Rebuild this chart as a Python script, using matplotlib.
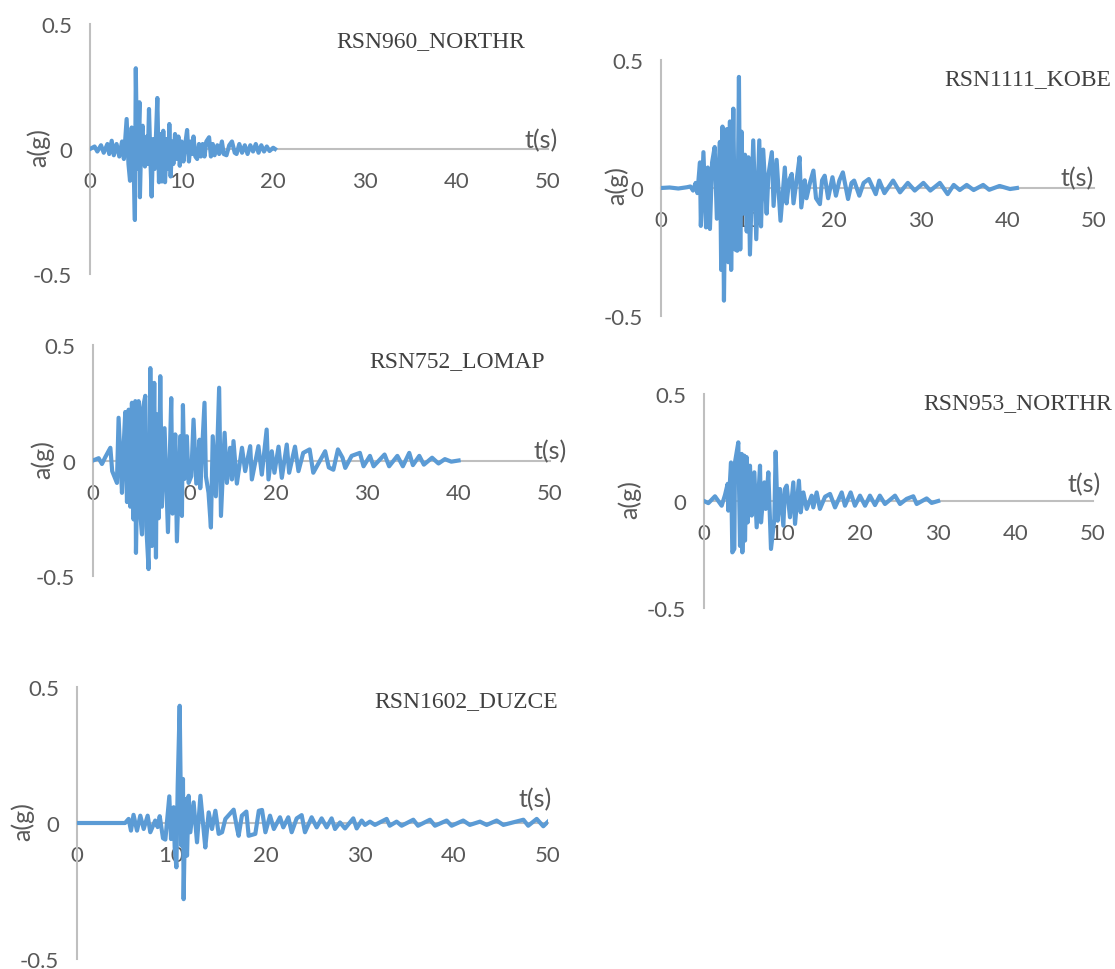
#!/usr/bin/env python3
# plot.py - five ground-motion records (acceleration vs time), Excel-like layout
import matplotlib
matplotlib.use('Agg')
import matplotlib.pyplot as plt

W, H = 1115, 970
LINE = '#5B9BD5'
AXIS = '#BFBFBF'
TXT = '#595959'

# RSN960_NORTHR  (peaks)
t960 = [0.0, 0.5, 0.8, 1.2, 1.5, 1.9, 2.1, 2.37, 2.6, 2.9, 3.2, 3.5, 3.7, 4.0, 4.2, 4.37, 4.55, 4.75, 4.9, 5.0,
        5.15, 5.3, 5.4, 5.45, 5.6, 5.75, 5.85, 6.0, 6.2, 6.3, 6.44, 6.6, 6.73, 6.9, 7.05, 7.2, 7.35, 7.53, 7.7, 7.85,
        8.0, 8.19, 8.4, 8.55, 8.66, 8.8, 9.0, 9.1, 9.28, 9.5, 9.65, 9.8, 10.0, 10.2, 10.4, 10.6, 10.8, 11.0, 11.15, 11.3,
        11.5, 11.7, 11.9, 12.1, 12.3, 12.5, 12.7, 13.0, 13.2, 13.4, 13.6, 13.9, 14.1, 14.4, 14.6, 14.9, 15.2, 15.5, 15.8, 16.0,
        16.3, 16.6, 16.9, 17.2, 17.5, 17.8, 18.1, 18.4, 18.7, 19.0, 19.3, 19.6, 20.0, 20.2]
a960 = [0.0, 0.01, -0.01, 0.015, -0.015, 0.02, -0.02, 0.033, -0.025, 0.02, -0.03, 0.03, -0.04, 0.12, -0.06, -0.127, 0.086, -0.05, -0.284, 0.323,
        -0.08, 0.06, 0.187, -0.193, 0.05, 0.093, -0.03, -0.07, 0.05, -0.06, 0.16, -0.05, -0.19, 0.04, -0.08, 0.05, 0.204, -0.133, 0.06, -0.13,
        0.073, -0.133, 0.04, -0.08, 0.10, -0.11, 0.03, -0.06, 0.06, -0.04, 0.05, -0.067, 0.03, -0.05, 0.02, 0.076, -0.05, 0.03, -0.02, 0.05,
        -0.03, -0.04, 0.02, -0.03, 0.02, -0.03, 0.03, 0.047, -0.03, 0.02, -0.025, 0.015, -0.02, 0.03, -0.02, -0.025, 0.015, 0.03, -0.015, -0.02,
        0.02, -0.015, 0.015, -0.02, 0.015, -0.01, 0.02, -0.015, 0.015, -0.01, 0.01, -0.008, 0.005, 0.0]

# RSN1111_KOBE
t1111 = [0.0, 1.0, 2.0, 3.0, 3.4, 3.7, 4.0, 4.2, 4.5, 4.6, 4.9, 5.2, 5.4, 5.65, 5.9, 6.2, 6.45, 6.8, 6.95, 7.1,
         7.27, 7.45, 7.6, 7.77, 7.96, 8.1, 8.35, 8.55, 8.8, 9.0, 9.15, 9.3, 9.5, 9.7, 9.9, 10.1, 10.27, 10.65, 11.0, 11.35,
         11.55, 11.8, 12.2, 12.4, 12.8, 13.0, 13.35, 13.8, 14.3, 14.5, 14.8, 15.1, 15.3, 15.7, 16.0, 16.2, 16.6, 16.8, 17.2, 17.6,
         17.9, 18.35, 18.6, 18.9, 19.3, 19.8, 20.2, 20.6, 21.0, 21.6, 22.0, 22.3, 22.9, 23.4, 24.0, 24.8, 25.2, 25.8, 26.8, 27.6,
         28.5, 29.3, 30.3, 31.1, 32.2, 33.1, 33.8, 34.5, 35.3, 36.1, 37.2, 37.9, 39.1, 40.3, 41.1]
a1111 = [0.0, 0.002, -0.002, 0.003, 0.006, -0.01, 0.02, -0.02, 0.10, -0.148, 0.14, -0.154, 0.08, -0.16, 0.10, 0.16, -0.12, 0.18, -0.32, 0.24,
         -0.44, 0.10, 0.23, -0.29, 0.26, -0.32, 0.31, -0.24, -0.245, 0.434, -0.24, 0.22, -0.10, 0.13, -0.17, 0.12, -0.26, 0.186, -0.20, 0.186,
         -0.15, 0.15, -0.10, 0.05, 0.14, -0.07, 0.11, -0.128, 0.08, -0.06, 0.03, 0.055, -0.06, 0.04, 0.12, -0.076, 0.03, -0.04, 0.02, 0.068,
         -0.04, -0.063, 0.03, 0.048, -0.04, 0.042, -0.03, 0.03, 0.061, -0.043, 0.02, 0.029, -0.03, 0.02, 0.035, -0.024, 0.029, -0.02, 0.029, -0.017,
         0.02, -0.01, 0.02, -0.01, 0.02, -0.024, 0.012, -0.008, 0.012, -0.008, 0.012, -0.007, 0.008, -0.004, 0.0]

# RSN752_LOMAP
t752 = [0.0, 0.62, 0.98, 1.35, 1.9, 2.1, 2.62, 2.8, 3.17, 3.35, 3.53, 3.72, 3.9, 4.08, 4.26, 4.44, 4.63, 4.7, 4.99, 5.17,
        5.36, 5.43, 5.72, 5.83, 6.08, 6.27, 6.45, 6.7, 6.89, 7.0, 7.18, 7.36, 7.54, 7.83, 8.2, 8.56, 8.7, 9.0, 9.18, 9.54,
        9.73, 9.84, 10.0, 10.27, 10.46, 10.75, 11.0, 11.3, 11.66, 11.73, 12.2, 12.35, 12.64, 12.9, 13.1, 13.44, 13.8, 14.0, 14.4, 14.65,
        15.0, 15.2, 15.37, 15.74, 16.3, 16.65, 17.2, 17.38, 18.1, 18.47, 19.0, 19.2, 19.56, 19.85, 20.3, 20.66, 21.2, 21.46, 22.1, 22.48,
        23.0, 23.7, 24.1, 25.4, 25.8, 26.3, 26.8, 27.3, 27.6, 28.3, 29.2, 29.6, 30.3, 30.7, 31.9, 32.4, 33.3, 33.9, 34.6, 35.0,
        35.7, 36.2, 37.1, 37.8, 38.5, 39.2, 40.0]
a752 = [0.0, 0.01, -0.015, 0.015, 0.055, -0.046, -0.097, 0.185, -0.14, 0.06, 0.21, -0.18, 0.22, -0.2, 0.25, -0.255, 0.257, -0.40, 0.257, -0.227,
        -0.32, 0.22, 0.28, -0.284, -0.47, 0.40, -0.37, 0.336, -0.42, 0.2, -0.25, 0.365, -0.2, 0.14, -0.31, 0.27, -0.23, 0.113, -0.35, 0.105,
        -0.24, 0.24, -0.08, 0.105, -0.097, -0.068, 0.177, -0.1, 0.09, -0.12, 0.25, -0.068, -0.14, -0.29, 0.105, -0.155, 0.315, -0.24, 0.12, -0.097,
        0.055, -0.082, 0.084, -0.1, 0.055, -0.046, 0.062, -0.082, 0.062, -0.061, 0.134, -0.082, 0.04, -0.053, 0.06, -0.075, 0.069, -0.053, 0.06, -0.046,
        0.033, 0.048, -0.053, 0.04, -0.03, -0.04, 0.048, 0.012, -0.032, 0.02, 0.033, -0.025, 0.02, -0.025, 0.026, -0.025, 0.02, -0.025, 0.033, -0.02,
        0.02, -0.018, 0.012, -0.013, 0.006, -0.005, 0.0]

# RSN953_NORTHR
t953 = [0.0, 0.56, 1.41, 2.27, 2.7, 3.04, 3.13, 3.47, 3.64, 3.9, 3.98, 4.41, 4.63, 4.84, 4.93, 5.18, 5.27, 5.48, 5.61, 5.91,
        6.13, 6.47, 6.77, 7.2, 7.33, 7.76, 7.93, 8.27, 8.61, 9.04, 9.21, 9.47, 9.77, 10.2, 10.4, 10.63, 11.05, 11.48, 11.7, 12.2,
        12.43, 12.77, 13.2, 13.84, 14.05, 14.48, 14.9, 15.56, 16.2, 16.84, 17.7, 18.12, 18.85, 19.4, 20.05, 20.7, 21.33, 21.98, 22.6, 23.26,
        24.55, 25.2, 26.05, 26.9, 27.34, 28.62, 29.26, 30.1]
a953 = [0.0, -0.01, 0.022, -0.022, 0.028, 0.08, -0.045, 0.18, -0.24, -0.224, 0.18, 0.274, -0.21, 0.22, -0.24, 0.212, -0.185, 0.205, -0.1, 0.165,
        -0.068, 0.134, -0.123, 0.165, -0.1, 0.087, -0.037, 0.134, -0.224, -0.085, 0.23, -0.092, 0.056, -0.115, 0.056, 0.072, -0.076, 0.087, -0.107, 0.095,
        -0.053, 0.04, -0.037, 0.025, -0.03, 0.04, -0.037, 0.02, 0.033, -0.03, 0.04, -0.022, 0.04, -0.022, 0.025, -0.022, 0.025, -0.019, 0.025, -0.014,
        0.025, -0.014, 0.01, 0.022, -0.014, 0.012, -0.009, 0.0]

# RSN1602_DUZCE
t1602 = [0.0, 5.1, 5.48, 5.73, 6.0, 6.37, 6.72, 7.08, 7.5, 7.78, 8.3, 8.56, 8.78, 9.13, 9.38, 9.8, 9.98, 10.26, 10.37, 10.55,
         10.69, 10.9, 11.08, 11.25, 11.32, 11.5, 11.68, 11.85, 12.03, 12.38, 12.74, 13.1, 13.45, 13.62, 13.98, 14.33, 14.69, 15.04, 15.4, 15.75,
         16.63, 17.0, 17.16, 17.5, 17.98, 18.22, 18.93, 19.3, 19.64, 20.0, 20.49, 20.9, 21.55, 21.9, 22.43, 22.79, 23.32, 23.85, 24.2, 24.91,
         25.44, 25.97, 26.5, 27.03, 27.39, 27.92, 28.45, 29.33, 29.69, 30.22, 30.57, 31.1, 31.63, 32.87, 33.2, 33.93, 34.46, 35.7, 36.2, 37.47,
         38.0, 39.24, 39.77, 41.0, 41.7, 42.78, 43.49, 44.55, 45.26, 47.39, 47.9, 48.8, 49.5, 50.0]
a1602 = [0.0, 0.0, 0.015, -0.028, 0.03, -0.028, 0.027, -0.022, 0.027, -0.034, 0.009, -0.015, 0.025, -0.056, -0.061, 0.098, -0.059, 0.058, -0.09, -0.163,
         0.137, 0.431, -0.083, 0.162, -0.28, 0.088, -0.12, 0.1, -0.034, 0.076, -0.071, 0.1, -0.028, -0.09, 0.039, -0.022, 0.045, -0.04, -0.034, 0.015,
         0.049, -0.022, -0.047, 0.027, 0.042, -0.047, -0.04, 0.045, 0.048, -0.034, 0.027, -0.022, 0.021, -0.016, 0.021, -0.034, 0.017, 0.029, -0.034, 0.021,
         -0.016, 0.017, -0.016, 0.017, -0.022, 0.002, -0.02, 0.017, -0.02, 0.009, -0.007, 0.005, -0.007, 0.015, -0.01, 0.005, -0.01, 0.012, -0.01, 0.012,
         -0.01, 0.009, -0.01, 0.009, -0.007, 0.005, -0.007, 0.009, -0.007, 0.012, -0.01, 0.015, -0.012, 0.005]

xticks = [0, 10, 20, 30, 40, 50]
yticks = [-0.5, 0, 0.5]
ytick_labels = ['-0.5', '0', '0.5']

# panel layout in pixels: x of t=0, x of t=50, y of a=0.5, y of a=-0.5,
# title right edge / centre y, t(s) centre, a(g) centre
panels = [
    ('RSN960_NORTHR', t960, a960, (90, 548, 25, 275), (525, 42), (541, 141), (38, 148)),
    ('RSN1111_KOBE', t1111, a1111, (661, 1094, 61, 317), (1111, 80), (1077, 179), (616, 186)),
    ('RSN752_LOMAP', t752, a752, (93, 550, 346, 577), (545, 362), (550, 452), (42, 460)),
    ('RSN953_NORTHR', t953, a953, (704, 1093, 395, 609), (1112, 404), (1084, 485), (629, 500)),
    ('RSN1602_DUZCE', t1602, a1602, (77, 548, 688, 960), (558, 702), (535, 800), (22, 822)),
]

fig = plt.figure(figsize=(W / 100, H / 100), dpi=100)
fig.patch.set_facecolor('white')

for name, t, a, (x0, x1, yt, yb), tpos, spos, apos in panels:
    ax = fig.add_axes([x0 / W, 1 - yb / H, (x1 - x0) / W, (yb - yt) / H])
    ax.plot(t, a, color=LINE, lw=3.0, solid_joinstyle='round', zorder=3)
    ax.set_xlim(0, 50)
    ax.set_ylim(-0.5, 0.5)
    for s in ['top', 'right']:
        ax.spines[s].set_visible(False)
    ax.spines['bottom'].set_position(('data', 0))
    for s in ['left', 'bottom']:
        ax.spines[s].set_color(AXIS)
        ax.spines[s].set_linewidth(1.5)
        ax.spines[s].set_zorder(2)
    ax.set_xticks(xticks)
    ax.set_xticklabels([str(v) for v in xticks])
    ax.set_yticks(yticks)
    ax.set_yticklabels(ytick_labels)
    ax.tick_params(length=0, labelsize=16, labelcolor=TXT)
    ax.tick_params(axis='x', pad=16)
    ax.tick_params(axis='y', pad=13)
    for lab in ax.get_xticklabels() + ax.get_yticklabels():
        lab.set_fontfamily('Lato')
    ax.patch.set_alpha(0)

    fig.text(tpos[0] / W, 1 - tpos[1] / H, name, ha='right', va='center',
             fontsize=17, family='Liberation Serif', color='#404040')
    fig.text(spos[0] / W, 1 - spos[1] / H, 't(s)', ha='center', va='center',
             fontsize=18, family='Lato', color=TXT)
    fig.text(apos[0] / W, 1 - apos[1] / H, 'a(g)', ha='center', va='center',
             fontsize=18, family='Lato', color=TXT, rotation=90)

fig.savefig('out.png', dpi=100)
